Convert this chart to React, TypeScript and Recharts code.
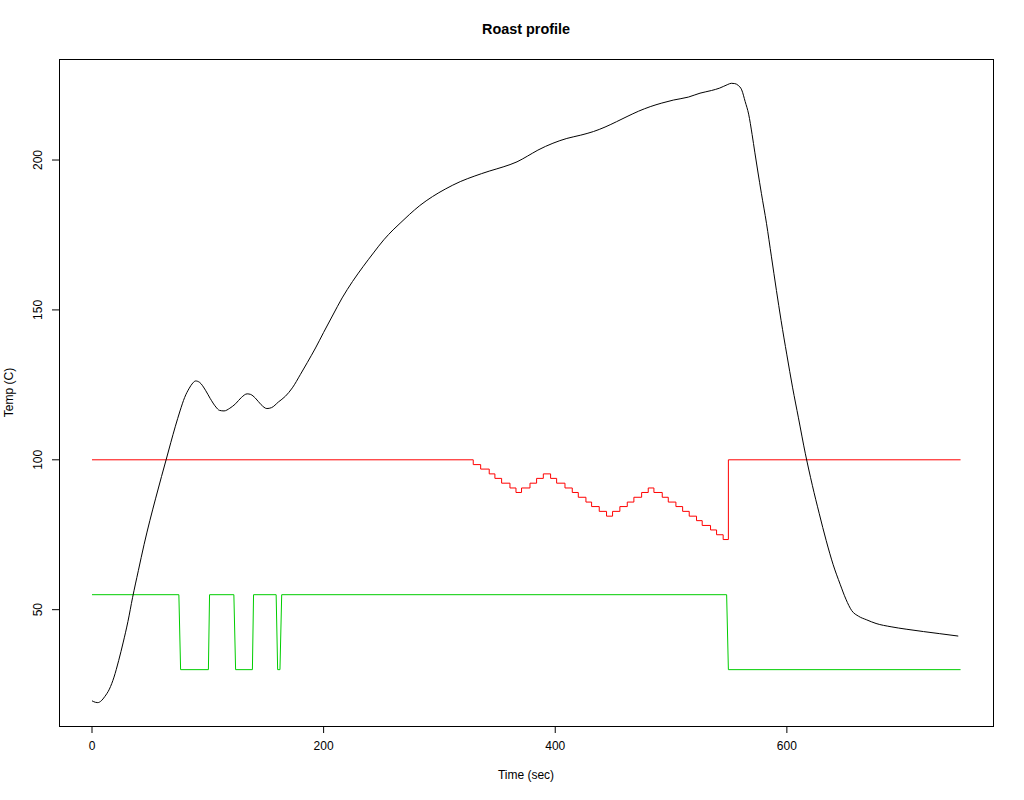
import { LineChart, Line, XAxis, YAxis } from "recharts"

// bean temperature probe (sec, C)
const tempTime = [
  0, 3, 5, 8, 11, 15, 19, 23, 27, 31, 35, 40, 45, 50, 55, 60, 64, 68, 72, 76, 80, 84, 87, 89.5, 93, 98, 102, 107,
  110, 114, 119, 124, 129, 134, 137, 141, 146, 151, 155, 161, 167, 173, 180, 186, 193, 200, 208, 216, 225, 234,
  243, 252, 260, 266, 274, 283, 294, 305, 318, 330, 343, 355, 367, 376, 385, 398, 410, 422, 433, 443, 453, 462,
  472, 482, 492, 502, 515, 525, 535, 542, 549, 552, 555, 558, 561, 564, 567, 570, 572.4, 575, 578, 582.4, 586.7,
  591, 595, 600, 605, 610, 616, 622, 628, 634, 640, 646, 651, 656, 662, 669, 677, 690, 703, 718, 732, 748,
]
const tempValue = [
  19.6, 19.1, 19.0, 19.6, 21, 23.5, 27.5, 33, 39.2, 46, 54, 63, 71.8, 79.8, 87.2, 94.4, 100, 105.7, 111.2, 116.3,
  120.8, 123.9, 125.6, 126.3, 125.8, 123.2, 120.5, 117.6, 116.5, 116.3, 117.2, 118.7, 120.8, 122.0, 121.8, 120.6,
  118.4, 117.1, 117.4, 119.3, 121.2, 124, 128.5, 132.5, 137.3, 142.5, 148.3, 154, 159.5, 164.4, 169, 173.4,
  176.7, 178.9, 181.8, 184.8, 187.8, 190.3, 192.8, 194.6, 196.3, 197.7, 199.4, 201.3, 203.3, 205.6, 207.2, 208.3,
  209.5, 211, 212.8, 214.5, 216.3, 217.8, 219, 220, 221, 222.3, 223.2, 224, 225.2, 225.6, 225.5, 224.9, 223.4,
  219.5, 215.3, 208.5, 202.4, 196, 188.9, 178.9, 167.7, 156.5, 146.5, 135, 124, 114, 102, 91.5, 82, 73, 65,
  58.5, 53.5, 49.7, 47.8, 46.6, 45.4, 44.3, 43.5, 42.7, 42, 41.2,
]

// setpoint, step changes (stepAfter)
const setTime = [
  0, 329.2, 335.6, 343.0, 347.9, 353.7, 360.9, 366.1, 370.9, 378.2, 383.9, 389.7, 396.0, 401.2, 408.4, 414.7,
  419.9, 426.5, 431.4, 438.0, 444.3, 449.5, 455.8, 462.2, 467.9, 474.6, 480.3, 485.2, 492.4, 497.6, 504.2, 510.0,
  515.7, 522.0, 526.9, 534.1, 539.3, 545.0, 549.5, 750,
]
const setValue = [
  100, 98.4, 96.9, 95.3, 93.8, 92.2, 90.6, 89.1, 90.6, 92.2, 93.8, 95.3, 93.8, 92.2, 90.6, 89.1, 87.5, 85.9,
  84.4, 82.8, 81.2, 82.8, 84.4, 85.9, 87.5, 89.1, 90.6, 89.1, 87.5, 85.9, 84.4, 82.8, 81.2, 79.7, 78.1, 76.6,
  75.0, 73.4, 100, 100,
]

// heater / fan output
const heatTime = [0, 75, 76.5, 100.5, 101.5, 122.5, 124, 138.5, 139.5, 159, 160.3, 162.3, 163.8, 548, 549.5, 750]
const heatValue = [55, 55, 30, 30, 55, 55, 30, 30, 55, 55, 30, 30, 55, 55, 30, 30]

const xTicks = [0, 200, 400, 600]
const yTicks = [50, 100, 150, 200]

const tempData = tempTime.map((t, i) => ({ t, v: tempValue[i] }))
const setData = setTime.map((t, i) => ({ t, v: setValue[i] }))
const heatData = heatTime.map((t, i) => ({ t, v: heatValue[i] }))

const FONT = "'Liberation Sans', Arial, Helvetica, sans-serif"

const XTick = ({ x, payload }: any) => (
  <text x={x} y={750} textAnchor="middle" fontSize={12} fontFamily={FONT} fill="#000">
    {payload.value}
  </text>
)

const YTick = ({ y, payload }: any) => (
  <text
    x={42}
    y={y}
    transform={`rotate(-90, 42, ${y})`}
    textAnchor="middle"
    fontSize={12}
    fontFamily={FONT}
    fill="#000"
  >
    {payload.value}
  </text>
)

export default function App() {
  return (
    <div style={{ position: "relative", width: 1024, height: 800, background: "#fff" }}>
      <style>{`body{margin:0}`}</style>
      <LineChart width={1024} height={800} margin={{ top: 59, right: 31, left: 0, bottom: 0 }}>
        <XAxis
          dataKey="t"
          type="number"
          domain={[-28.5, 778]}
          ticks={xTicks}
          allowDataOverflow
          height={74}
          axisLine={false}
          tickSize={7}
          tickLine={{ stroke: "#000" }}
          tick={<XTick />}
        />
        <YAxis
          type="number"
          domain={[11.2, 233.7]}
          ticks={yTicks}
          allowDataOverflow
          width={59}
          axisLine={false}
          tickSize={7}
          tickLine={{ stroke: "#000" }}
          tick={<YTick />}
        />
        <Line
          data={heatData}
          dataKey="v"
          type="linear"
          stroke="#00cd00"
          strokeWidth={1}
          dot={false}
          isAnimationActive={false}
        />
        <Line
          data={setData}
          dataKey="v"
          type="stepAfter"
          stroke="#ff0000"
          strokeWidth={1}
          dot={false}
          isAnimationActive={false}
        />
        <Line
          data={tempData}
          dataKey="v"
          type="monotone"
          stroke="#000"
          strokeWidth={1}
          dot={false}
          isAnimationActive={false}
        />
      </LineChart>
      <svg
        width={1024}
        height={800}
        style={{ position: "absolute", left: 0, top: 0, pointerEvents: "none" }}
        fontFamily={FONT}
      >
        <rect x={59.5} y={59.5} width={934} height={667} fill="none" stroke="#000" />
        <text x={526} y={34} textAnchor="middle" fontSize={14.4} fontWeight="bold">
          Roast profile
        </text>
        <text x={526} y={779} textAnchor="middle" fontSize={12}>
          Time (sec)
        </text>
        <text x={13} y={392.5} transform="rotate(-90, 13, 392.5)" textAnchor="middle" fontSize={12}>
          Temp (C)
        </text>
      </svg>
    </div>
  )
}
